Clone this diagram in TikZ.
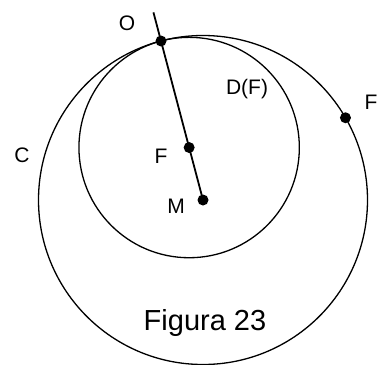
\documentclass[tikz,border=0pt]{standalone}
\usepackage{fontspec}
\setmainfont{Liberation Sans}
\usetikzlibrary{calc}
\begin{document}
\begin{tikzpicture}[x=1pt,y=1pt,
  lbl/.style={font=\fontsize{21}{25}\selectfont}]
  \useasboundingbox (0,0) rectangle (377,-364);

  % body
  \coordinate (M) at (203,-200);
  \coordinate (O) at (161,-41);
  \coordinate (F) at ($(O)!0.67!(M)$);
  \coordinate (T) at ($(O)!-0.18!(M)$);
  \coordinate (P) at ($(M)+(30:164.5pt)$);

  % kruznice C a D(F)
  \draw[line width=1.3pt] (M) circle (164.5pt);
  \draw[line width=1.3pt] (F) circle (110.2pt);

  % priamka OM
  \draw[line width=1.8pt] (T) -- (M);

  % plne body
  \foreach \p in {O,F,M,P}
    \fill (\p) circle (5.5pt);

  % popisy
  \node[lbl] (lO) at (127,-23) {O};
  \node[lbl] (lD) at (247,-89) {D(F)};
  \node[lbl] (lC) at (22,-155) {C};
  \node[lbl] (lF) at (161,-156) {F};
  \node[lbl] (lM) at (176,-206) {M};
  \node[lbl] (lP) at (371,-102) {F};
  \node[font=\fontsize{29}{34}\selectfont] (fig) at (205,-323) {Figura 23};
\end{tikzpicture}
\end{document}
